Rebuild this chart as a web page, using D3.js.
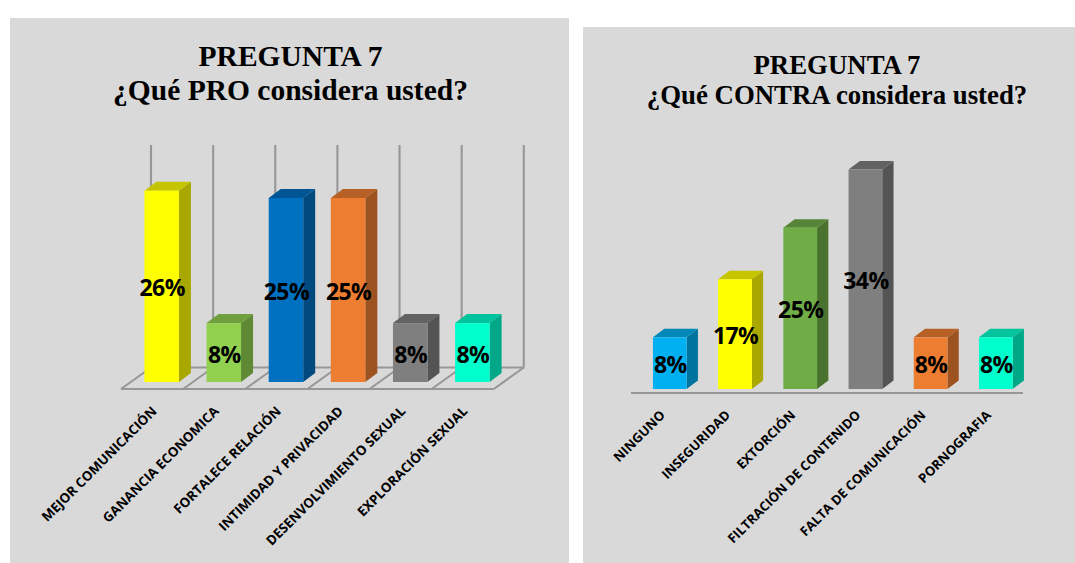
<!DOCTYPE html>
<html><head><meta charset="utf-8">
<script src="https://cdn.jsdelivr.net/npm/d3@7"></script>
<style>html,body{margin:0;background:#fff}svg{display:block}</style></head>
<body><svg id="c" width="1075" height="563"></svg>
<script>
const proCategories = ["MEJOR COMUNICACIÓN","GANANCIA ECONOMICA","FORTALECE RELACIÓN","INTIMIDAD Y PRIVACIDAD","DESENVOLVIMIENTO SEXUAL","EXPLORACIÓN SEXUAL"];
const proValues = [26,8,25,25,8,8];
const proColors = ["#FFFF00","#92D050","#0070C0","#ED7D31","#7F7F7F","#00FFCC"];
const contraCategories = ["NINGUNO","INSEGURIDAD","EXTORCIÓN","FILTRACIÓN DE CONTENIDO","FALTA DE COMUNICACIÓN","PORNOGRAFIA"];
const contraValues = [8,17,25,34,8,8];
const contraColors = ["#00B0F0","#FFFF00","#70AD47","#7F7F7F","#ED7D31","#00FFCC"];
const titleLine1 = "PREGUNTA 7";
const proTitle = "¿Qué PRO considera usted?";
const contraTitle = "¿Qué CONTRA considera usted?";

const svg = d3.select("#c");
const GRID = "#979797";

function panel(o){
  const g = svg.append("g");
  g.append("rect").attr("x",o.px).attr("y",o.py).attr("width",o.pw).attr("height",o.ph).attr("fill","#D9D9D9");
  const tx = o.tx;
  g.append("text").attr("x",tx).attr("y",o.t1).text(titleLine1)
    .attr("text-anchor","middle").attr("font-family","Liberation Serif").attr("font-weight",700).attr("font-size",o.tfs).attr("fill","#000");
  g.append("text").attr("x",tx).attr("y",o.t2).text(o.title)
    .attr("text-anchor","middle").attr("font-family","Liberation Serif").attr("font-weight",700).attr("font-size",o.tfs).attr("fill","#000");

  const x = d3.scaleBand().domain(o.cats).range(o.xr).paddingInner(o.pad).paddingOuter(o.pad/2);
  const y = d3.scaleLinear().domain([0,o.vmax]).range([o.y0,o.y0-o.vmax*o.unit]);
  const dx=o.dx, dy=o.dy, step=x.step();

  if(o.floor){
    const f=g.append("g").attr("fill","none").attr("stroke",GRID).attr("stroke-width",2.1);
    const fy=o.y0+7, by=o.y0-14.5, fx=o.xr[0]-9.6, bx=fx+23;
    const ticks=d3.range(o.cats.length+1);
    ticks.forEach(i=>{
      f.append("line").attr("x1",fx+i*step).attr("y1",fy).attr("x2",bx+i*step+7).attr("y2",by);
      f.append("line").attr("x1",bx+i*step+7).attr("y1",by).attr("x2",bx+i*step+7).attr("y2",o.wallTop);
    });
    f.append("line").attr("x1",fx).attr("y1",fy).attr("x2",fx+6*step).attr("y2",fy);
    f.append("line").attr("x1",bx+7).attr("y1",by).attr("x2",bx+6*step+7).attr("y2",by);
  }

  o.cats.forEach((c,i)=>{
    const X=x(c), w=x.bandwidth(), T=y(o.vals[i]), B=y(0), col=d3.color(o.cols[i]);
    const side=d3.rgb(col.r*.66,col.g*.66,col.b*.66)+"", top=d3.rgb(col.r*.77,col.g*.77,col.b*.77)+"";
    g.append("polygon").attr("fill",side).attr("points",[[X+w,T],[X+w+dx,T-dy],[X+w+dx,B-dy],[X+w,B]].join(" "));
    g.append("polygon").attr("fill",top).attr("points",[[X,T],[X+dx,T-dy],[X+w+dx,T-dy],[X+w,T]].join(" "));
    g.append("rect").attr("x",X).attr("y",T).attr("width",w).attr("height",B-T).attr("fill",o.cols[i]);
  });
  o.cats.forEach((c,i)=>{
    g.append("text").attr("x",x(c)+x.bandwidth()/2+.5).attr("y",(y(o.vals[i])+y(0))/2+10)
      .attr("text-anchor","middle").attr("font-family","Open Sans").attr("font-weight",700)
      .attr("font-size",o.lfs).attr("letter-spacing","-0.6").attr("fill","#000").text(o.vals[i]+"%");
  });

  const ax=g.append("g").attr("transform",`translate(0,${o.axisY})`)
    .call(d3.axisBottom(x).tickSize(0).tickPadding(0));
  ax.select(".domain").attr("stroke",o.floor?"none":GRID).attr("stroke-width",2);
  if(!o.floor) ax.select(".domain").attr("d",`M${o.lineX[0]},0H${o.lineX[1]}`);
  ax.selectAll("text").attr("font-family","Open Sans").attr("font-weight",700).attr("font-size",o.cfs)
    .attr("fill","#000").attr("text-anchor","end").attr("dy",0)
    .attr("transform",`translate(${o.lx},${o.ly}) rotate(-45)`).attr("y",0).attr("x",0);
}

panel({px:10,py:18,pw:559,ph:545,tx:290.5,t1:66,t2:100,tfs:29.5,title:proTitle,
  cats:proCategories,vals:proValues,cols:proColors,vmax:30,unit:7.36,y0:382,xr:[130.6,503.4],pad:.445,
  dx:12,dy:9,floor:true,wallTop:145,axisY:390,lx:-4,ly:22,cfs:13.3,lfs:23});
panel({px:583,py:27,pw:492,ph:536,tx:837,t1:74,t2:104,tfs:26.8,title:contraTitle,
  cats:contraCategories,vals:contraValues,cols:contraColors,vmax:34,unit:6.455,y0:389,xr:[637.2,1028.4],pad:.483,
  dx:11.3,dy:8.5,floor:false,axisY:393,lineX:[631,1023],lx:-4,ly:23,cfs:13.1,lfs:23});
</script></body></html>
